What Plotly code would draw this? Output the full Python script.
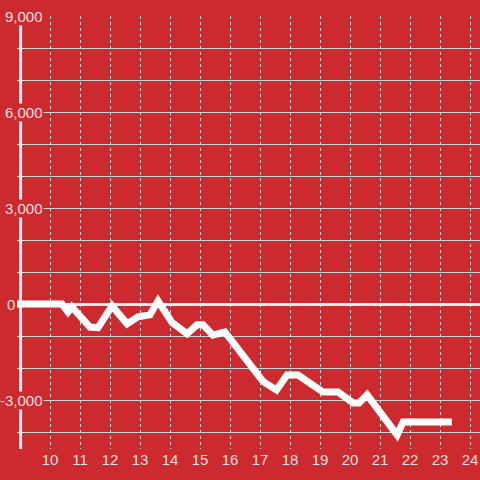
import plotly.graph_objects as go

# Data (hour of day vs. value)
hours = [8.9, 10.4, 10.6, 10.73, 11.33, 11.6, 12.07, 12.57, 12.93, 13.33, 13.6,
         14.07, 14.57, 14.9, 15.1, 15.43, 15.83, 16.3, 16.8, 17.1, 17.55, 17.9,
         18.27, 19.1, 19.6, 20.1, 20.3, 20.57, 21.57, 21.77, 23.4]
values = [0, 0, -250, -90, -720, -740, -60, -620, -400, -340, 100,
          -580, -930, -650, -650, -970, -870, -1450, -2000, -2420, -2690, -2220,
          -2220, -2750, -2750, -3090, -3090, -2840, -4090, -3690, -3690]

x_ticks = list(range(10, 25))
x_tick_labels = [str(v) for v in x_ticks]
y_ticks = [-3000, 0, 3000, 6000, 9000]
y_tick_labels = ["-3,000", "0", "3,000", "6,000", "9,000"]

BG = "#cd2a30"
GRID = "#d2d2d2"
TEXT = "#f4dede"
FONT = "Liberation Sans, Arial, sans-serif"

fig = go.Figure()
fig.add_trace(go.Scatter(
    x=hours, y=values, mode="lines",
    line=dict(color="#ffffff", width=7),
    hoverinfo="skip", showlegend=False,
))

fig.update_layout(
    width=480, height=480,
    margin=dict(l=17, r=0, t=16, b=31),
    paper_bgcolor=BG, plot_bgcolor=BG,
    font=dict(family=FONT, size=15, color=TEXT),
    showlegend=False,
)

fig.update_xaxes(
    range=[8.9, 24.333],
    tickvals=x_ticks, ticktext=x_tick_labels,
    showgrid=True, gridcolor=GRID, gridwidth=1, griddash="dot",
    zeroline=False, showline=False, ticks="",
    tickfont=dict(family=FONT, size=15, color=TEXT),
    fixedrange=True,
)

fig.update_yaxes(
    range=[-4531, 9003],
    dtick=1000, tick0=0,
    showticklabels=False,
    showgrid=True, gridcolor=GRID, gridwidth=1,
    zeroline=True, zerolinecolor="#f0f0f0", zerolinewidth=3,
    showline=False, ticks="",
    fixedrange=True,
)

# y-axis line
fig.add_shape(type="line", xref="x", yref="y",
              x0=9.02, x1=9.02, y0=-4531, y1=9000,
              line=dict(color="#f0f0f0", width=3), layer="above")

# y tick labels with background boxes covering the axis line
for v, t in zip(y_ticks, y_tick_labels):
    shift = -1 if t == "0" else 27
    fig.add_annotation(
        x=0, xref="paper", y=v, yref="y",
        xanchor="right", yanchor="middle", xshift=shift,
        text=t, showarrow=False,
        font=dict(family=FONT, size=15, color=TEXT),
        bgcolor=BG, borderpad=0,
    )

fig.write_html("out.html", config={"displayModeBar": False},
               post_script="document.body.style.margin='0px';document.body.style.overflow='hidden';")
